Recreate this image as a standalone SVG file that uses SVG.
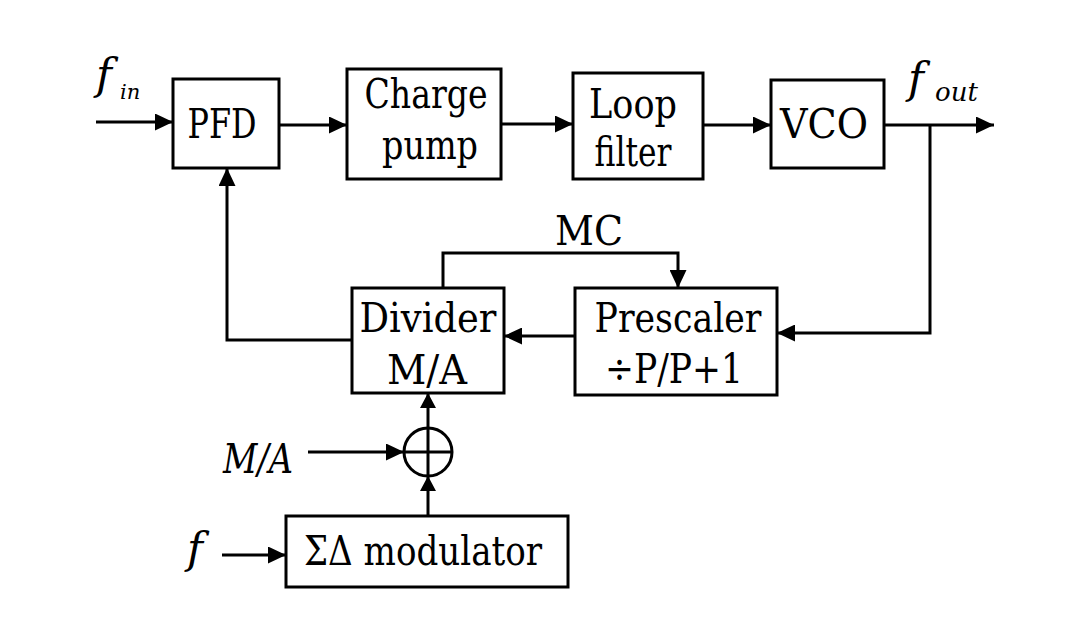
<svg xmlns="http://www.w3.org/2000/svg" width="1079" height="636" viewBox="0 0 1079 636">
<defs>
<style>
.box{fill:#fff;stroke:#000;stroke-width:3}
.ln{fill:none;stroke:#000;stroke-width:3}
text{font-family:'DejaVu Serif','Liberation Serif','Times New Roman',serif;fill:#000}
.t{font-size:41px;text-anchor:middle}
.i{font-style:italic}
</style>
<marker id="ah" markerWidth="18" markerHeight="17" refX="18" refY="8.5" orient="auto" markerUnits="userSpaceOnUse">
<path d="M0,0 L18,8.5 L0,17 z" fill="#000"/>
</marker>
<marker id="ahs" markerWidth="15" markerHeight="16" refX="15" refY="8" orient="auto" markerUnits="userSpaceOnUse">
<path d="M0,0 L15,8 L0,16 z" fill="#000"/>
</marker>
</defs>
<rect width="1079" height="636" fill="#fff"/>
<g id="connectors">
<path class="ln" d="M96,122 H173" marker-end="url(#ah)"/>
<path class="ln" d="M279,125 H347" marker-end="url(#ah)"/>
<path class="ln" d="M501,124 H573" marker-end="url(#ah)"/>
<path class="ln" d="M703,125 H771" marker-end="url(#ah)"/>
<path class="ln" d="M884,125 H994" marker-end="url(#ah)"/>
<path class="ln" d="M930,125 V333 H777" marker-end="url(#ah)"/>
<path class="ln" d="M575,336 H504" marker-end="url(#ah)"/>
<path class="ln" d="M443,288 V253 H678 V288" marker-end="url(#ah)"/>
<path class="ln" d="M352,340 H227 V168" marker-end="url(#ah)"/>
<path class="ln" d="M308,452 H404" marker-end="url(#ah)"/>
<path class="ln" d="M428,428 V393" marker-end="url(#ahs)"/>
<path class="ln" d="M428,516 V476" marker-end="url(#ahs)"/>
<path class="ln" d="M222,555 H286" marker-end="url(#ah)"/>
</g>
<g id="pfd">
<rect class="box" x="173" y="79" width="106" height="89"/>
<text class="t" x="222" y="138" textLength="69" lengthAdjust="spacingAndGlyphs">PFD</text>
</g>
<g id="chargepump">
<rect class="box" x="347" y="69" width="154" height="110"/>
<text class="t" x="426" y="108" textLength="123" lengthAdjust="spacingAndGlyphs">Charge</text>
<text class="t" x="430" y="159" textLength="96" lengthAdjust="spacingAndGlyphs">pump</text>
</g>
<g id="loopfilter">
<rect class="box" x="573" y="73" width="130" height="106"/>
<text class="t" x="633" y="118" textLength="88" lengthAdjust="spacingAndGlyphs">Loop</text>
<text class="t" x="633" y="166" textLength="77" lengthAdjust="spacingAndGlyphs">filter</text>
</g>
<g id="vco">
<rect class="box" x="771" y="80" width="113" height="88"/>
<text class="t" x="824" y="138" textLength="88" lengthAdjust="spacingAndGlyphs">VCO</text>
</g>
<g id="divider">
<rect class="box" x="352" y="288" width="152" height="105"/>
<text class="t" x="428" y="332" textLength="137" lengthAdjust="spacingAndGlyphs">Divider</text>
<text class="t" x="427" y="384" textLength="80" lengthAdjust="spacingAndGlyphs">M/A</text>
</g>
<g id="prescaler">
<rect class="box" x="575" y="288" width="202" height="107"/>
<text class="t" x="678" y="332" textLength="167" lengthAdjust="spacingAndGlyphs">Prescaler</text>
<text class="t" x="674" y="383" textLength="138" lengthAdjust="spacingAndGlyphs">÷P/P+1</text>
</g>
<g id="modulator">
<rect class="box" x="286" y="516" width="282" height="71"/>
<text class="t" x="423" y="565" textLength="238" lengthAdjust="spacingAndGlyphs">ΣΔ modulator</text>
</g>
<g id="sum">
<circle class="ln" cx="428" cy="452" r="24"/>
<path class="ln" d="M404,452 H452 M428,428 V476"/>
</g>
<g id="labels">
<text class="i" x="96" y="89" style="font-size:43px">f</text>
<text class="i" x="120" y="99" style="font-size:21px">in</text>
<text class="i" x="908" y="93" style="font-size:43px">f</text>
<text class="i" x="935" y="101" style="font-size:26px">out</text>
<text class="t" x="589" y="245" textLength="68" lengthAdjust="spacingAndGlyphs">MC</text>
<text class="i" x="223" y="473" style="font-size:41px" textLength="70" lengthAdjust="spacingAndGlyphs">M/A</text>
<text class="i" x="187" y="563" style="font-size:43px">f</text>
</g>
</svg>
